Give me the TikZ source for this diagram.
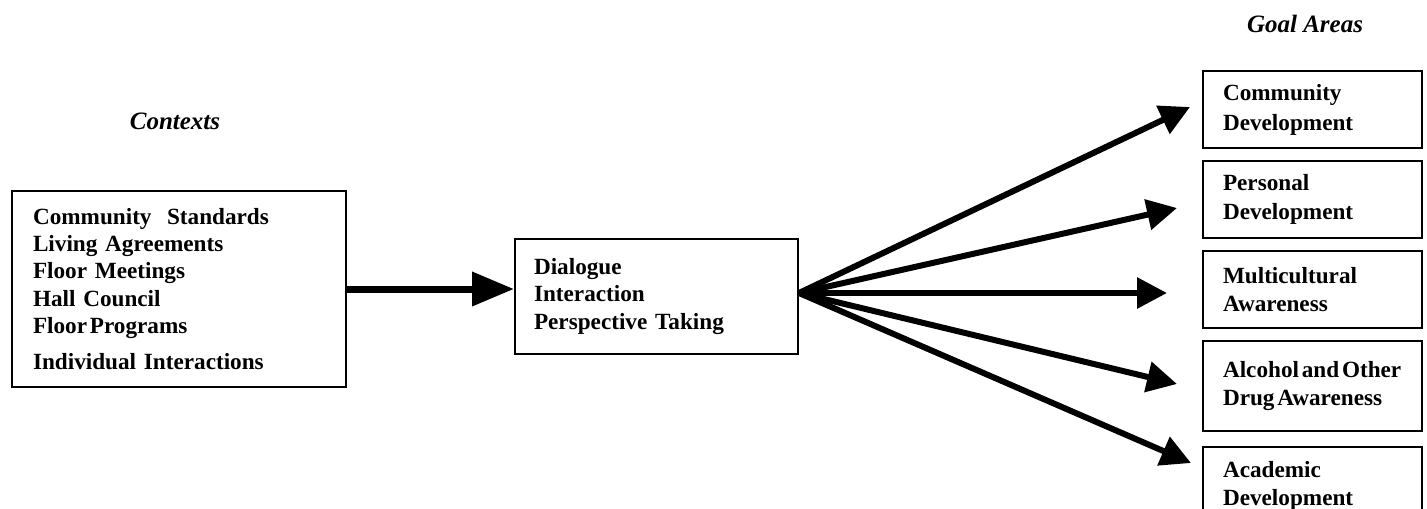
\documentclass[tikz,border=0pt]{standalone}
\usepackage{fontspec}
\setmainfont{Liberation Serif}
\usetikzlibrary{arrows.meta, positioning}

\newcommand{\tsp}{\hspace{0.12em}}

\begin{document}
\begin{tikzpicture}[
  x=0.5pt, y=-0.5pt,
  box/.style = {draw, line width=1pt, align=left, inner ysep=0pt,
    font=\bfseries\fontsize{11.6}{13.6}\selectfont},
  goal/.style = {box, text width=89.5pt, inner xsep=10pt, minimum height=38.5pt},
  head/.style = {anchor=base, font=\bfseries\itshape\fontsize{12.5}{14}\selectfont},
  bigarrow/.style = {line width=3.5pt, -{Triangle[length=21pt, width=16.5pt]}},
  arrow/.style = {line width=3pt, -{Triangle[length=15pt, width=15pt]}},
  node distance=5.5pt
]
\useasboundingbox (0,0) rectangle (1427,508);
\clip (0,0) rectangle (1427,508);

% Headings
\node[head] (ctxhead) at (175,129) {Contexts};
\node[head] (goalhead) at (1305,33) {Goal Areas};

% Contexts box
\node[box, anchor=north west, text width=146pt, inner xsep=10.5pt,
  minimum height=98pt] (ctx) at (11,190) {
  Community\ \ Standards \\ Living Agreements \\ Floor Meetings \\
  Hall Council \\ Floor\tsp Programs \\[4.4pt] Individual Interactions};

% Middle box
\node[box, anchor=north west, text width=122.5pt, inner xsep=9.5pt,
  minimum height=57.5pt] (mid) at (514,238) {
  Dialogue \\ Interaction \\[0.6pt] Perspective Taking};

% Goal areas
\node[goal, anchor=north west] (g1) at (1202,70) {Community \\[1.4pt] Development};
\node[goal, below=of g1] (g2) {Personal \\[1pt] Development};
\node[goal, below=of g2] (g3) {Multicultural \\ Awareness};
\node[goal, below=of g3, minimum height=45pt] (g4)
  {Alcohol\tsp and\tsp Other \\[0.6pt] Drug\tsp Awareness};
\node[goal, below=7pt of g4, minimum height=39pt] (g5) {Academic \\ Development};

% Arrow tips on the right
\coordinate (t1) at (1190,107);
\coordinate (t2) at (1177,208);
\coordinate (t3) at (1167,293);
\coordinate (t4) at (1177,384);
\coordinate (t5) at (1191,463);

% Arrows
\draw[bigarrow] (ctx.east) -- (ctx.east -| mid.west);
\foreach \t in {t1,t2,t3,t4,t5}
  \draw[arrow] (mid.east |- t3) -- (\t);

\end{tikzpicture}
\end{document}
